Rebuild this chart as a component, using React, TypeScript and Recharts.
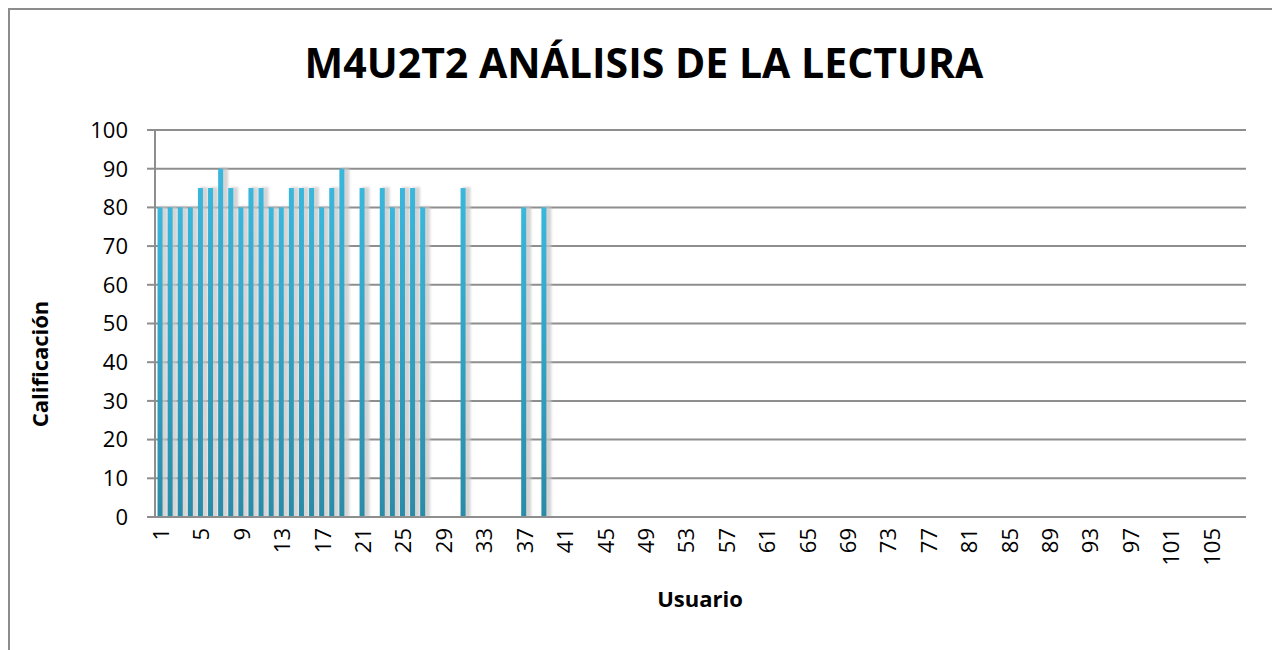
import React from 'react';
import { BarChart, Bar, XAxis, YAxis, CartesianGrid } from 'recharts';

const categories: string[] = Array.from({ length: 108 }, (_, i) => String(i + 1));

// Calificación por usuario (usuarios 1..39; el resto sin dato)
const scores: (number | null)[] = [
  80, 80, 80, 80, 85, 85, 90, 85, 80, 85,
  85, 80, 80, 85, 85, 85, 80, 85, 90, null,
  85, null, 85, 80, 85, 85, 80, null, null, null,
  85, null, null, null, null, null, 80, null, 80,
];

const yTicks: number[] = [0, 10, 20, 30, 40, 50, 60, 70, 80, 90, 100];

const data = categories.map((c, i) => ({ cat: c, value: i < scores.length ? scores[i] : null }));

const FONT = '"Open Sans", "DejaVu Sans", sans-serif';
const GRID = '#8e8e8e';

const BarShape = (props: any) => {
  const x = Number(props.x);
  const y = Number(props.y);
  const width = Number(props.width);
  const height = Number(props.height);
  if (!height || height <= 0 || !isFinite(x)) return null;
  return (
    <g>
      <defs>
        <linearGradient id="barGradA" x1="0" y1="0" x2="0" y2="1">
          <stop offset="0%" stopColor="#3ab7dc" />
          <stop offset="100%" stopColor="#2a8ba7" />
        </linearGradient>
        <filter id="barBlurA" x="-100%" y="-10%" width="300%" height="120%">
          <feGaussianBlur stdDeviation="1.3" />
        </filter>
      </defs>
      <rect x={x + 2} y={y - 1} width={width + 3} height={height + 1} fill="#c8c8c8" opacity={0.75} filter="url(#barBlurA)" />
      <rect x={x} y={y} width={width} height={height} fill="url(#barGradA)" />
    </g>
  );
};

const XTick = (props: any) => {
  const { x, y, payload } = props;
  const ty = y + 11;
  return (
    <text
      x={x}
      y={ty}
      transform={`rotate(-90 ${x} ${ty})`}
      textAnchor="end"
      dominantBaseline="central"
      fontSize={22}
      fontFamily={FONT}
      fill="#000"
    >
      {payload.value}
    </text>
  );
};

export default function App() {
  return (
    <div style={{ position: 'relative', width: 1272, height: 642, background: '#fff', overflow: 'hidden' }}>
      <BarChart
        width={1272}
        height={642}
        data={data}
        margin={{ top: 122, right: 34, bottom: 73, left: 0 }}
        barCategoryGap="25%"
      >
        <CartesianGrid horizontal={true} vertical={false} stroke={GRID} strokeWidth={2} />
        <XAxis
          dataKey="cat"
          interval={3}
          tick={<XTick />}
          tickLine={false}
          tickSize={0}
          tickMargin={0}
          axisLine={{ stroke: GRID, strokeWidth: 2 }}
          height={60}
        />
        <YAxis
          domain={[0, 100]}
          ticks={yTicks}
          interval={0}
          width={147}
          tickSize={8}
          tickMargin={19}
          tickLine={{ stroke: GRID, strokeWidth: 2 }}
          axisLine={{ stroke: GRID, strokeWidth: 2 }}
          tick={{ fontSize: 22, fill: '#000', fontFamily: FONT }}
        />
        <Bar dataKey="value" fill="#33a6c8" isAnimationActive={false} shape={(p: any) => <BarShape {...p} />} />
      </BarChart>
      <svg width={1272} height={642} style={{ position: 'absolute', left: 0, top: 0, pointerEvents: 'none' }}>
        <text x={636} y={70} textAnchor="middle" fontSize={41} fontWeight="bold" fontFamily={FONT} fill="#000">
          M4U2T2 ANÁLISIS DE LA LECTURA
        </text>
        <text
          x={0}
          y={0}
          transform="translate(40 356) rotate(-90)"
          textAnchor="middle"
          fontSize={22}
          fontWeight="bold"
          fontFamily={FONT}
          fill="#000"
        >
          Calificación
        </text>
        <text x={692} y={599} textAnchor="middle" fontSize={22} fontWeight="bold" fontFamily={FONT} fill="#000">
          Usuario
        </text>
      </svg>
      <div
        style={{
          position: 'absolute',
          left: 0,
          top: 0,
          width: 1272,
          height: 660,
          boxSizing: 'border-box',
          borderTop: '2px solid #8c8c8c',
          borderLeft: '2px solid #8c8c8c',
          borderRight: '2px solid #8c8c8c',
          pointerEvents: 'none',
        }}
      />
    </div>
  );
}
